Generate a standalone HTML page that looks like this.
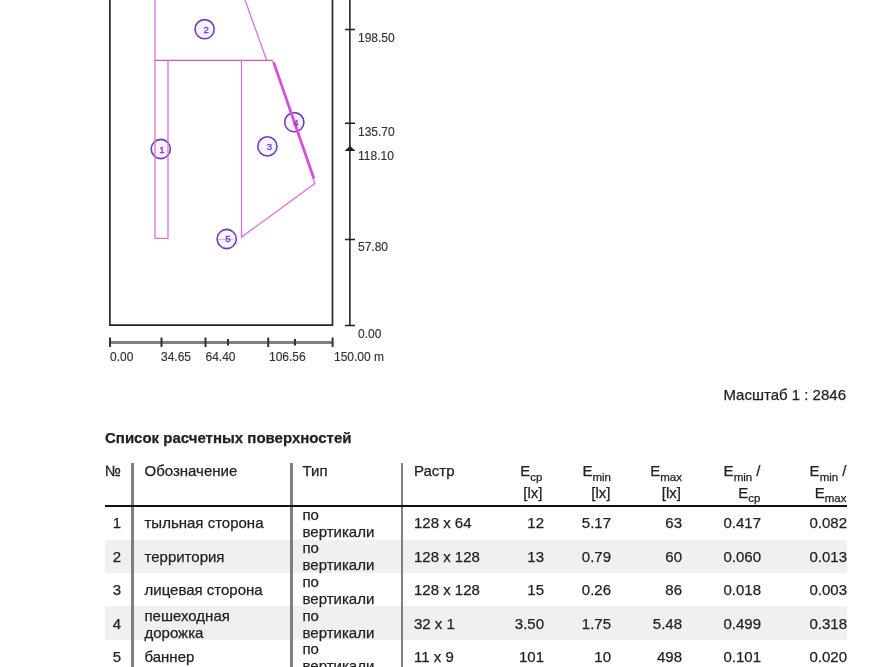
<!DOCTYPE html>
<html><head><meta charset="utf-8">
<style>
html,body{margin:0;padding:0;background:#fff;width:889px;height:667px;overflow:hidden;position:relative}
body{font-family:"Liberation Sans",Arial,sans-serif;color:#222}
.a{position:absolute;white-space:nowrap}
.ax{font-size:12px;line-height:14px;color:#333}
.t{font-size:15px;line-height:17px;color:#222}
.r{text-align:right}
.sb{font-size:11.5px;position:relative;top:4.7px}
.row{position:absolute;left:104.5px;width:742px;height:33.25px}
.g{background:#f0f0f0}
.vd{position:absolute;top:463px;width:2.5px;height:210px;background:#808080}
.a,svg{filter:blur(0.35px)}
.t{-webkit-text-stroke:0.25px #222}
.ax{-webkit-text-stroke:0.15px #333}
</style></head><body>
<svg class="a" style="left:0;top:0" width="889" height="380" viewBox="0 0 889 380">
 <!-- frame -->
 <path d="M109.9 -5 V325.1 H332.5 V-5" fill="none" stroke="#262626" stroke-width="1.7"/>
 <!-- vertical axis -->
 <path d="M349.9 -5 V325.5" stroke="#262626" stroke-width="1.6"/>
 <path d="M345 29.5 H355 M345 123.2 H355 M345 239.5 H355 M345 325.5 H355" stroke="#222" stroke-width="1.6"/>
 <path d="M344.5 151 L355.5 151 L350 146 Z" fill="#222"/>
 <!-- horizontal axis -->
 <path d="M110 342.5 H333" stroke="#808080" stroke-width="2.8"/>
 <path d="M110 337.5 V347 M161.5 337.5 V347 M205.5 337.5 V347 M268.2 337.5 V347 M332.6 337.5 V347" stroke="#333" stroke-width="2"/>
 <path d="M228 339 V345.5 M295 339 V345.5" stroke="#333" stroke-width="2"/>
 <g fill="#fcf2fc" stroke="#6640c0" stroke-width="1.6">
  <circle cx="160.8" cy="149" r="9.6"/>
  <circle cx="204.6" cy="29.2" r="9.6"/>
  <circle cx="267.4" cy="146.4" r="9.6"/>
  <circle cx="294.3" cy="122.2" r="9.6"/>
  <circle cx="226.7" cy="239" r="9.6"/>
 </g>
 <!-- surfaces -->
 <g fill="none" stroke="#dc70d8" stroke-width="1.3">
  <path d="M155 -5 V238.3 H168 V60.3"/>
  <path d="M155 60.4 H272.4" stroke="#cc5caa"/>
  <path d="M243.2 -5 L266.7 60.3"/>
  <path d="M241.5 60.3 V237.1 L314.8 183.6 L272.4 60.3"/>
 </g>
 <path d="M273.8 62.5 L314 178.5" stroke="#dc4cd8" stroke-width="2.5" fill="none"/>
 <path d="M218.5 239.4 H233" stroke="#e8a8d8" stroke-width="1"/>
 <!-- labels -->
 <g fill="#6a40cc" stroke="#6a40cc" stroke-width="0.3" font-family="Liberation Sans, Arial, sans-serif" font-size="9.6" text-anchor="middle">
  <text x="162" y="152.5">1</text>
  <text x="206.2" y="33">2</text>
  <text x="269.3" y="150.4">3</text>
  <text x="295.8" y="126">4</text>
  <text x="228" y="242.3">5</text>
 </g>
</svg>
<div class="a ax" style="left:358px;top:30.5px">198.50</div>
<div class="a ax" style="left:358px;top:124.5px">135.70</div>
<div class="a ax" style="left:358px;top:148.5px">118.10</div>
<div class="a ax" style="left:358px;top:239.5px">57.80</div>
<div class="a ax" style="left:358px;top:327px">0.00</div>
<div class="a ax" style="left:110px;top:350px">0.00</div>
<div class="a ax" style="left:161px;top:350px">34.65</div>
<div class="a ax" style="left:205.5px;top:350px">64.40</div>
<div class="a ax" style="left:269px;top:350px">106.56</div>
<div class="a ax" style="left:334px;top:350px">150.00 m</div>

<div class="a t" style="right:43px;top:385.5px">Масштаб 1 : 2846</div>
<div class="a t" style="left:105px;top:429.2px;font-weight:bold">Список расчетных поверхностей</div>

<!-- table -->
<div class="row g" style="top:539.85px"></div>
<div class="row g" style="top:606.35px"></div>
<div class="vd" style="left:131.4px"></div>
<div class="vd" style="left:290.1px"></div>
<div class="vd" style="left:400.5px"></div>
<div class="a" style="left:104.5px;top:505px;width:742px;height:2px;background:#111"></div>

<div class="a t" style="left:105px;top:461.9px">№</div>
<div class="a t" style="left:144.5px;top:461.9px">Обозначение</div>
<div class="a t" style="left:302.5px;top:461.9px">Тип</div>
<div class="a t" style="left:414px;top:461.9px">Растр</div>
<div class="a t r" style="right:346.5px;top:461.9px">E<span class="sb">ср</span></div>
<div class="a t r" style="right:346.5px;top:483.5px">[lx]</div>
<div class="a t r" style="right:278px;top:461.9px">E<span class="sb">min</span></div>
<div class="a t r" style="right:278.5px;top:483.5px">[lx]</div>
<div class="a t r" style="right:207px;top:461.9px">E<span class="sb">max</span></div>
<div class="a t r" style="right:208px;top:483.5px">[lx]</div>
<div class="a t r" style="right:128.5px;top:461.9px">E<span class="sb">min</span> /</div>
<div class="a t r" style="right:128.5px;top:483.5px">E<span class="sb">ср</span></div>
<div class="a t r" style="right:42.5px;top:461.9px">E<span class="sb">min</span> /</div>
<div class="a t r" style="right:42.5px;top:483.5px">E<span class="sb">max</span></div>

<!--rows-->
<div class="a t r" style="right:768px;top:514.43px">1</div>
<div class="a t" style="left:144.5px;top:514.43px">тыльная сторона</div>
<div class="a t" style="left:302.5px;top:506.10px">по<br>вертикали</div>
<div class="a t" style="left:414px;top:514.43px">128 x 64</div>
<div class="a t r" style="right:345px;top:514.43px">12</div>
<div class="a t r" style="right:278px;top:514.43px">5.17</div>
<div class="a t r" style="right:207px;top:514.43px">63</div>
<div class="a t r" style="right:128px;top:514.43px">0.417</div>
<div class="a t r" style="right:42px;top:514.43px">0.082</div>
<div class="a t r" style="right:768px;top:547.68px">2</div>
<div class="a t" style="left:144.5px;top:547.68px">территория</div>
<div class="a t" style="left:302.5px;top:539.35px">по<br>вертикали</div>
<div class="a t" style="left:414px;top:547.68px">128 x 128</div>
<div class="a t r" style="right:345px;top:547.68px">13</div>
<div class="a t r" style="right:278px;top:547.68px">0.79</div>
<div class="a t r" style="right:207px;top:547.68px">60</div>
<div class="a t r" style="right:128px;top:547.68px">0.060</div>
<div class="a t r" style="right:42px;top:547.68px">0.013</div>
<div class="a t r" style="right:768px;top:580.93px">3</div>
<div class="a t" style="left:144.5px;top:580.93px">лицевая сторона</div>
<div class="a t" style="left:302.5px;top:572.60px">по<br>вертикали</div>
<div class="a t" style="left:414px;top:580.93px">128 x 128</div>
<div class="a t r" style="right:345px;top:580.93px">15</div>
<div class="a t r" style="right:278px;top:580.93px">0.26</div>
<div class="a t r" style="right:207px;top:580.93px">86</div>
<div class="a t r" style="right:128px;top:580.93px">0.018</div>
<div class="a t r" style="right:42px;top:580.93px">0.003</div>
<div class="a t r" style="right:768px;top:614.98px">4</div>
<div class="a t" style="left:144.5px;top:606.65px">пешеходная<br>дорожка</div>
<div class="a t" style="left:302.5px;top:606.65px">по<br>вертикали</div>
<div class="a t" style="left:414px;top:614.98px">32 x 1</div>
<div class="a t r" style="right:345px;top:614.98px">3.50</div>
<div class="a t r" style="right:278px;top:614.98px">1.75</div>
<div class="a t r" style="right:207px;top:614.98px">5.48</div>
<div class="a t r" style="right:128px;top:614.98px">0.499</div>
<div class="a t r" style="right:42px;top:614.98px">0.318</div>
<div class="a t r" style="right:768px;top:648.43px">5</div>
<div class="a t" style="left:144.5px;top:648.43px">баннер</div>
<div class="a t" style="left:302.5px;top:640.10px">по<br>вертикали</div>
<div class="a t" style="left:414px;top:648.43px">11 x 9</div>
<div class="a t r" style="right:345px;top:648.43px">101</div>
<div class="a t r" style="right:278px;top:648.43px">10</div>
<div class="a t r" style="right:207px;top:648.43px">498</div>
<div class="a t r" style="right:128px;top:648.43px">0.101</div>
<div class="a t r" style="right:42px;top:648.43px">0.020</div>
<!--/rows-->
</body></html>
